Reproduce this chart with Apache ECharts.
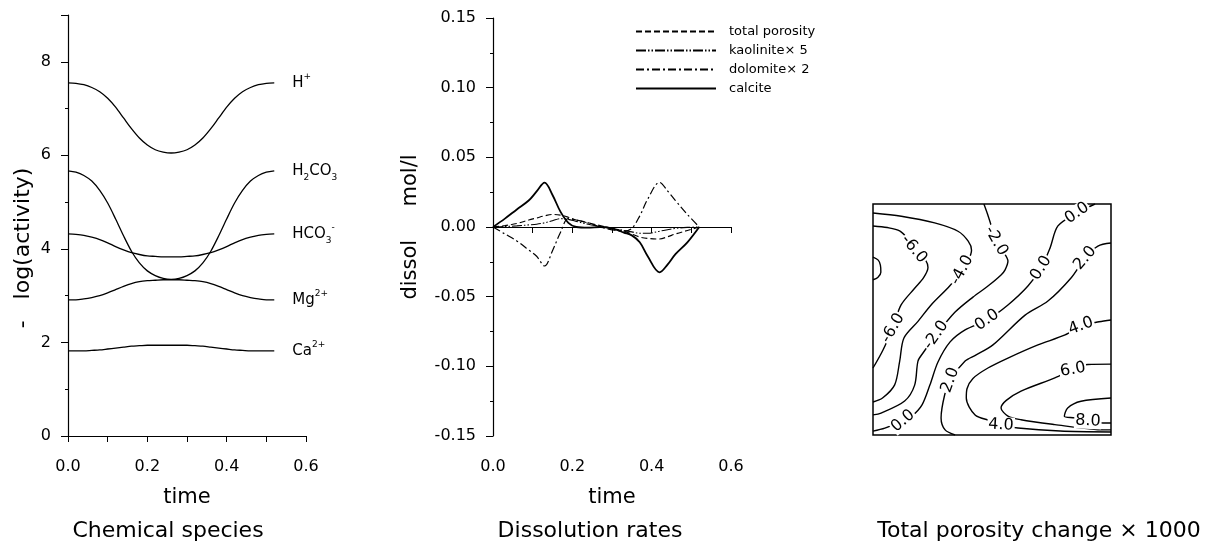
<!DOCTYPE html>
<html><head><meta charset="utf-8">
<script src="https://cdn.jsdelivr.net/npm/echarts@6/dist/echarts.min.js"></script>
<style>html,body{margin:0;padding:0;background:#fff}#c{width:1212px;height:547px}</style>
</head><body><div id="c"></div>
<script>
const FONT = 'DejaVu Sans';

// ---------- Panel 1: Chemical species ----------
const speciesTime = [0, 0.02, 0.04, 0.06, 0.08, 0.10, 0.12, 0.14, 0.16, 0.18, 0.20, 0.22, 0.24, 0.26, 0.28, 0.30, 0.32, 0.34, 0.36, 0.38, 0.40, 0.42, 0.44, 0.46, 0.48, 0.50, 0.52];
const hPlus = [7.55, 7.54, 7.51, 7.45, 7.36, 7.22, 7.03, 6.80, 6.57, 6.37, 6.22, 6.12, 6.07, 6.05, 6.07, 6.12, 6.22, 6.37, 6.57, 6.80, 7.03, 7.22, 7.36, 7.45, 7.51, 7.54, 7.55];
const h2co3 = [5.67, 5.64, 5.57, 5.45, 5.25, 4.98, 4.64, 4.28, 3.95, 3.70, 3.53, 3.43, 3.37, 3.35, 3.37, 3.43, 3.53, 3.70, 3.95, 4.28, 4.64, 4.98, 5.25, 5.45, 5.57, 5.64, 5.67];
const hco3 = [4.32, 4.31, 4.29, 4.25, 4.20, 4.13, 4.05, 3.98, 3.92, 3.88, 3.85, 3.84, 3.83, 3.83, 3.83, 3.84, 3.85, 3.88, 3.92, 3.98, 4.05, 4.13, 4.20, 4.25, 4.29, 4.31, 4.32];
const mg = [2.91, 2.91, 2.93, 2.96, 3.00, 3.06, 3.13, 3.20, 3.26, 3.30, 3.32, 3.33, 3.34, 3.34, 3.34, 3.33, 3.32, 3.30, 3.26, 3.20, 3.13, 3.06, 3.00, 2.96, 2.93, 2.91, 2.91];
const ca = [1.82, 1.82, 1.82, 1.83, 1.84, 1.86, 1.88, 1.90, 1.92, 1.93, 1.94, 1.94, 1.94, 1.94, 1.94, 1.94, 1.93, 1.92, 1.90, 1.88, 1.86, 1.84, 1.83, 1.82, 1.82, 1.82, 1.82];
const speciesLabels = ['{b|H}{sup|+}', '{b|H}{sub|2}{b|CO}{sub|3}', '{b|HCO}{sub|3}{sup|-}', '{b|Mg}{sup|2+}', '{b|Ca}{sup|2+}'];
const speciesTicks = [0, 2, 4, 6, 8];

// ---------- Panel 2: Dissolution rates ----------
const rateTime = [0, 0.03, 0.06, 0.09, 0.11, 0.13, 0.15, 0.17, 0.19, 0.21, 0.24, 0.27, 0.30, 0.33, 0.35, 0.37, 0.39, 0.42, 0.44, 0.46, 0.49, 0.52];
const porosity = [0, 0.001, 0.0025, 0.005, 0.0065, 0.008, 0.009, 0.0085, 0.007, 0.005, 0.003, 0.001, -0.001, -0.003, -0.005, -0.0072, -0.0082, -0.0086, -0.007, -0.005, -0.0025, 0];
const kaolinite = [0, 0.0003, 0.0008, 0.0015, 0.002, 0.003, 0.0045, 0.006, 0.0055, 0.004, 0.002, 0.0005, -0.001, -0.0025, -0.0035, -0.0045, -0.0045, -0.003, -0.002, -0.001, -0.0003, 0];
const dolomite = [0, -0.005, -0.010, -0.0165, -0.021, -0.028, -0.017, -0.004, 0.006, 0.005, 0.003, 0.0, -0.002, -0.003, -0.001, 0.008, 0.020, 0.032, 0.026, 0.019, 0.009, 0];
const calcite = [0, 0.006, 0.0126, 0.019, 0.0255, 0.0318, 0.023, 0.011, 0.003, 0.0, -0.0005, 0.0, -0.001, -0.004, -0.006, -0.011, -0.021, -0.0325, -0.027, -0.0195, -0.011, 0];
const rateNames = ['total porosity', 'kaolinite\u00d7 5', 'dolomite\u00d7 2', 'calcite'];

// ---------- Panel 3: Total porosity change x 1000 (contours, unit square) ----------
const contourM8 = [[0, 0.77], [0.022, 0.757], [0.031, 0.735], [0.033, 0.705], [0.02, 0.682], [0, 0.672]];
const contourM6 = [[0, 0.905], [0.06, 0.898], [0.112, 0.884], [0.150, 0.846], [0.185, 0.795], [0.222, 0.755], [0.231, 0.725], [0.212, 0.68], [0.175, 0.635], [0.118, 0.563], [0.084, 0.468], [0.042, 0.368], [0, 0.29]];
const contourM4 = [[0, 0.961], [0.119, 0.947], [0.259, 0.918], [0.357, 0.882], [0.400, 0.839], [0.414, 0.800], [0.400, 0.755], [0.374, 0.714], [0.322, 0.645], [0.245, 0.564], [0.189, 0.492], [0.130, 0.420], [0.112, 0.319], [0.091, 0.217], [0.040, 0.160], [0, 0.143]];
const contourM2 = [[0.466, 1.0], [0.480, 0.96], [0.492, 0.922], [0.517, 0.840], [0.550, 0.790], [0.567, 0.753], [0.555, 0.715], [0.538, 0.693], [0.483, 0.645], [0.420, 0.597], [0.345, 0.532], [0.265, 0.433], [0.210, 0.355], [0.189, 0.320], [0.175, 0.216], [0.133, 0.147], [0.034, 0.095], [0, 0.087]];
const contour0 = [[0.933, 1.0], [0.857, 0.961], [0.777, 0.905], [0.744, 0.810], [0.706, 0.723], [0.651, 0.645], [0.567, 0.563], [0.479, 0.498], [0.387, 0.455], [0.324, 0.403], [0.273, 0.316], [0.239, 0.216], [0.206, 0.130], [0.164, 0.082], [0.126, 0.061], [0.050, 0.030], [0, 0.017]];
const contour2 = [[1.0, 0.831], [0.945, 0.818], [0.891, 0.766], [0.832, 0.680], [0.735, 0.580], [0.639, 0.519], [0.504, 0.390], [0.430, 0.345], [0.387, 0.320], [0.324, 0.238], [0.301, 0.173], [0.286, 0.074], [0.303, 0.022], [0.345, 0]];
const contour4 = [[1.0, 0.498], [0.95, 0.49], [0.874, 0.472], [0.807, 0.433], [0.693, 0.390], [0.567, 0.333], [0.483, 0.290], [0.420, 0.245], [0.395, 0.200], [0.392, 0.160], [0.429, 0.087], [0.496, 0.061], [0.538, 0.043], [0.609, 0.030], [0.786, 0.017], [1.0, 0.013]];
const contour6 = [[1.0, 0.307], [0.903, 0.305], [0.840, 0.283], [0.764, 0.247], [0.622, 0.190], [0.560, 0.150], [0.538, 0.117], [0.567, 0.082], [0.622, 0.066], [0.764, 0.045], [0.945, 0.023], [1.0, 0.022]];
const contour8 = [[1.0, 0.160], [0.874, 0.146], [0.818, 0.117], [0.804, 0.081], [0.847, 0.074], [0.903, 0.061], [0.966, 0.052], [1.0, 0.052]];
const contourLines = [contourM8, contourM6, contourM4, contourM2, contour0, contour2, contour4, contour6, contour8];
const contourLabelText = ['-6.0', '-6.0', '-4.0', '-2.0', '-2.0', '0.0', '0.0', '0.0', '0.0', '2.0', '2.0', '4.0', '4.0', '6.0', '8.0'];
const contourLabelX = [0.172, 0.084, 0.374, 0.517, 0.265, 0.857, 0.706, 0.479, 0.126, 0.891, 0.324, 0.874, 0.538, 0.840, 0.903];
const contourLabelY = [0.805, 0.463, 0.714, 0.840, 0.433, 0.961, 0.723, 0.498, 0.061, 0.766, 0.238, 0.472, 0.043, 0.283, 0.061];
const contourLabelAngle = [-50, 60, 62, -60, 55, 35, 58, 35, 40, 50, 70, 20, -3, 10, -3];

// ---------- chart ----------
const BLACK = '#000';
const RICH = {
  b: { fontFamily: FONT, fontSize: 15, color: BLACK, lineHeight: 22, verticalAlign: 'middle' },
  sub: { fontFamily: FONT, fontSize: 9, color: BLACK, lineHeight: 10, verticalAlign: 'bottom' },
  sup: { fontFamily: FONT, fontSize: 9, color: BLACK, lineHeight: 10, verticalAlign: 'top' }
};
const axisLineStyle = { show: true, lineStyle: { color: BLACK, width: 1.2 } };
const tickLabel = { fontFamily: FONT, fontSize: 16, color: BLACK };

function timeAxis(gridIndex) {
  return {
    type: 'value', gridIndex, min: 0, max: 0.6, interval: 0.2,
    name: 'time', nameLocation: 'middle', nameGap: 51,
    nameTextStyle: { fontFamily: FONT, fontSize: 21, color: BLACK },
    axisLine: axisLineStyle,
    axisTick: { show: true, length: 6, inside: false, lineStyle: { color: BLACK } },
    minorTick: { show: true, splitNumber: 2, length: 6, lineStyle: { color: BLACK } },
    axisLabel: Object.assign({ margin: 23, formatter: v => v.toFixed(1) }, tickLabel),
    splitLine: { show: false }, minorSplitLine: { show: false }
  };
}

const chart = echarts.init(document.getElementById('c'), null, { renderer: 'canvas' });
const speciesArrays = [hPlus, h2co3, hco3, mg, ca];
const rateArrays = [porosity, kaolinite, dolomite, calcite];
const rateStyles = [
  { type: [6, 3], width: 1.1 },
  { type: [10, 2, 1.5, 2, 1.5, 2], width: 1.1 },
  { type: [8, 3, 2, 3], width: 1.2 },
  { type: 'solid', width: 1.8 }
];

const series = [];
speciesArrays.forEach((arr, i) => {
  series.push({
    type: 'line', xAxisIndex: 0, yAxisIndex: 0, silent: true,
    data: speciesTime.map((t, j) => [t, arr[j]]),
    symbol: 'none', smooth: 0.3,
    lineStyle: { color: BLACK, width: 1.3 },
    endLabel: { show: true, formatter: speciesLabels[i], distance: 18, rich: RICH }
  });
});
rateArrays.forEach((arr, i) => {
  series.push({
    name: rateNames[i], type: 'line', xAxisIndex: 1, yAxisIndex: 1, silent: true,
    data: rateTime.map((t, j) => [t, arr[j]]),
    symbol: 'none', smooth: 0.35,
    itemStyle: { color: BLACK },
    lineStyle: Object.assign({ color: BLACK }, rateStyles[i])
  });
});
contourLines.forEach(line => {
  series.push({
    type: 'line', xAxisIndex: 2, yAxisIndex: 2, silent: true,
    data: line, symbol: 'none', smooth: 0.3,
    lineStyle: { color: BLACK, width: 1.4 }, z: 2
  });
});
series.push({
  type: 'scatter', xAxisIndex: 2, yAxisIndex: 2, silent: true, z: 5,
  symbolSize: 1, itemStyle: { color: 'rgba(255,255,255,0)' },
  data: contourLabelText.map((t, i) => ({
    name: t, value: [contourLabelX[i], contourLabelY[i]],
    label: { rotate: contourLabelAngle[i] }
  })),
  label: {
    show: true, position: 'inside', formatter: p => p.name,
    fontFamily: FONT, fontSize: 16, color: BLACK, opacity: 1,
    backgroundColor: '#fff', padding: [0, 1]
  },
  labelLayout: { hideOverlap: false }
});

const option = {
  animation: false,
  backgroundColor: '#fff',
  grid: [
    { left: 68, top: 15, width: 238, height: 421, outerBoundsMode: 'none' },
    { left: 493, top: 18, width: 238, height: 418, outerBoundsMode: 'none' },
    { left: 873, top: 204, width: 238, height: 231, outerBoundsMode: 'none', show: true, borderColor: BLACK, borderWidth: 1.5, backgroundColor: 'transparent' }
  ],
  xAxis: [
    timeAxis(0),
    timeAxis(1),
    { type: 'value', gridIndex: 2, min: 0, max: 1, show: false }
  ],
  yAxis: [
    {
      type: 'value', gridIndex: 0, min: 0, max: 9, interval: 2,
      name: '-   log(activity)', nameLocation: 'middle', nameGap: 34,
      nameTextStyle: { fontFamily: FONT, fontSize: 22, color: BLACK, padding: [0, 45, 0, 0] },
      axisLine: axisLineStyle,
      axisTick: { show: true, length: 7, lineStyle: { color: BLACK } },
      minorTick: { show: true, splitNumber: 2, length: 3, lineStyle: { color: BLACK } },
      axisLabel: Object.assign({ margin: 17, showMaxLabel: false, formatter: v => (speciesTicks.indexOf(v) >= 0 ? String(v) : '') }, tickLabel),
      splitLine: { show: false }
    },
    {
      type: 'value', gridIndex: 1, min: -0.15, max: 0.15, interval: 0.05,
      name: 'dissol     mol/l', nameLocation: 'middle', nameGap: 72,
      nameTextStyle: { fontFamily: FONT, fontSize: 21, color: BLACK },
      axisLine: axisLineStyle,
      axisTick: { show: true, length: 7, lineStyle: { color: BLACK } },
      minorTick: { show: true, splitNumber: 2, length: 3, lineStyle: { color: BLACK } },
      axisLabel: Object.assign({ margin: 17, formatter: v => v.toFixed(2) }, tickLabel),
      splitLine: { show: false }
    },
    { type: 'value', gridIndex: 2, min: 0, max: 1, show: false }
  ],
  legend: {
    data: rateNames, orient: 'vertical', left: 630, top: 20,
    itemWidth: 80, itemHeight: 14, itemGap: 6, selectedMode: false,
    itemStyle: { color: 'rgba(255,255,255,0)', borderColor: 'rgba(255,255,255,0)', borderWidth: 0 },
    textStyle: { fontFamily: FONT, fontSize: 13, color: BLACK, padding: [0, 0, 0, 8] }
  },
  graphic: [
    { type: 'text', x: 168, y: 531, style: { text: 'Chemical species', font: '22px "DejaVu Sans"', fill: BLACK, textAlign: 'center', textVerticalAlign: 'middle' } },
    { type: 'text', x: 590, y: 531, style: { text: 'Dissolution rates', font: '22px "DejaVu Sans"', fill: BLACK, textAlign: 'center', textVerticalAlign: 'middle' } },
    { type: 'text', x: 1039, y: 531, style: { text: 'Total porosity change \u00d7 1000', font: '22px "DejaVu Sans"', fill: BLACK, textAlign: 'center', textVerticalAlign: 'middle' } }
  ],
  series
};
chart.setOption(option);
</script>
</body></html>
